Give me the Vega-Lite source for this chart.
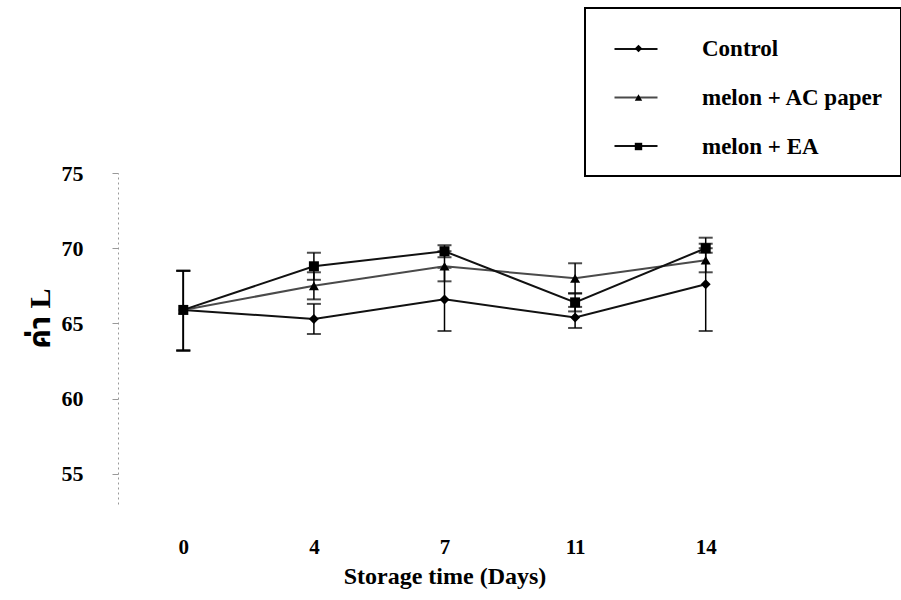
{
  "$schema": "https://vega.github.io/schema/vega-lite/v6.json",
  "width": 653,
  "height": 331,
  "autosize": {"type": "none"},
  "padding": {"left": 118, "top": 173, "right": 130, "bottom": 96},
  "background": "white",
  "config": {
    "view": {"stroke": null},
    "font": "Liberation Serif"
  },
  "data": {
    "values": [
      {"day": 0, "series": "Control", "mean": 65.9, "lo": 63.2, "hi": 68.5},
      {"day": 4, "series": "Control", "mean": 65.3, "lo": 64.3, "hi": 66.3},
      {"day": 7, "series": "Control", "mean": 66.6, "lo": 64.5, "hi": 68.7},
      {"day": 11, "series": "Control", "mean": 65.4, "lo": 64.7, "hi": 66.1},
      {"day": 14, "series": "Control", "mean": 67.6, "lo": 64.5, "hi": 70.7},
      {"day": 0, "series": "melon + AC paper", "mean": 65.9, "lo": 63.2, "hi": 68.5},
      {"day": 4, "series": "melon + AC paper", "mean": 67.5, "lo": 66.6, "hi": 68.4},
      {"day": 7, "series": "melon + AC paper", "mean": 68.8, "lo": 67.8, "hi": 69.8},
      {"day": 11, "series": "melon + AC paper", "mean": 68.0, "lo": 67.0, "hi": 69.0},
      {"day": 14, "series": "melon + AC paper", "mean": 69.2, "lo": 68.4, "hi": 70.0},
      {"day": 0, "series": "melon + EA", "mean": 65.9, "lo": 63.2, "hi": 68.5},
      {"day": 4, "series": "melon + EA", "mean": 68.8, "lo": 67.9, "hi": 69.7},
      {"day": 7, "series": "melon + EA", "mean": 69.8, "lo": 69.4, "hi": 70.2},
      {"day": 11, "series": "melon + EA", "mean": 66.4, "lo": 65.8, "hi": 67.0},
      {"day": 14, "series": "melon + EA", "mean": 70.0, "lo": 69.7, "hi": 70.3}
    ]
  },
  "encoding": {
    "x": {
      "field": "day",
      "type": "ordinal",
      "scale": {"type": "point", "padding": 0.5},
      "title": "Storage time (Days)",
      "axis": {
        "labelAngle": 0,
        "domain": false,
        "ticks": false,
        "labelFont": "Liberation Serif",
        "labelFontWeight": "bold",
        "labelFontSize": 21,
        "labelColor": "black",
        "labelPadding": 32,
        "titleFont": "Liberation Serif",
        "titleFontWeight": "bold",
        "titleFontSize": 24,
        "titleColor": "black",
        "titlePadding": 7
      }
    }
  },
  "layer": [
    {
      "mark": {"type": "rule", "color": "black", "strokeWidth": 1.5},
      "encoding": {
        "y": {
          "field": "lo",
          "type": "quantitative",
          "title": "ค่า L",
          "scale": {"domain": [53, 75], "nice": false, "zero": false},
          "axis": {
            "values": [55, 60, 65, 70, 75],
            "grid": false,
            "domainColor": "#999999",
            "domainDash": [2, 3],
            "tickColor": "#999999",
            "tickSize": 6,
            "labelPadding": 29,
            "labelFont": "Liberation Serif",
            "labelFontWeight": "bold",
            "labelFontSize": 22,
            "labelColor": "black",
            "titleFont": "Liberation Serif, Noto Sans Thai, Noto Sans, sans-serif",
            "titleFontWeight": "bold",
            "titleFontSize": 30,
            "titleColor": "black",
            "titlePadding": 6,
            "titleY": 145
          }
        },
        "y2": {"field": "hi"}
      }
    },
    {
      "mark": {"type": "tick", "color": "black", "size": 14, "thickness": 2},
      "encoding": {"y": {"field": "lo", "type": "quantitative", "title": "ค่า L"}}
    },
    {
      "mark": {"type": "tick", "color": "black", "size": 14, "thickness": 2},
      "encoding": {"y": {"field": "hi", "type": "quantitative", "title": "ค่า L"}}
    },
    {
      "mark": {"type": "line", "strokeWidth": 2},
      "encoding": {
        "y": {"field": "mean", "type": "quantitative", "title": "ค่า L"},
        "color": {
          "field": "series",
          "type": "nominal",
          "scale": {"range": ["#111111", "#4a4a4a", "#111111"]},
          "legend": {
            "title": null,
            "orient": "none",
            "legendX": 467,
            "legendY": -164,
            "padding": 17,
            "symbolType": "stroke",
            "symbolSize": 1850,
            "symbolStrokeWidth": 2,
            "symbolOffset": 11,
            "labelOffset": 10,
            "rowPadding": 13.5,
            "labelFontSize": 23,
            "labelExpr": "''",
            "labelOpacity": 0
          }
        }
      }
    },
    {
      "mark": {"type": "point", "filled": true, "color": "black", "opacity": 1, "size": 100},
      "encoding": {
        "y": {"field": "mean", "type": "quantitative", "title": "ค่า L"},
        "shape": {
          "field": "series",
          "type": "nominal",
          "scale": {"domain": ["Control", "melon + AC paper", "melon + EA"], "range": ["diamond", "triangle-up", "square"]},
          "legend": {
            "title": " ",
            "titleFontSize": 4,
            "titlePadding": 8,
            "orient": "none",
            "legendX": 467,
            "legendY": -165,
            "strokeColor": "black",
            "padding": 17,
            "symbolSize": 55,
            "symbolOffset": 25,
            "labelOffset": 52,
            "rowPadding": 25,
            "labelFont": "Liberation Serif",
            "labelFontWeight": "bold",
            "labelFontSize": 23,
            "labelColor": "black",
            "labelLimit": 400,
            "encoding": {
              "legend": {
                "strokeWidth": {"value": 2}
              }
            }
          }
        }
      }
    }
  ]
}
